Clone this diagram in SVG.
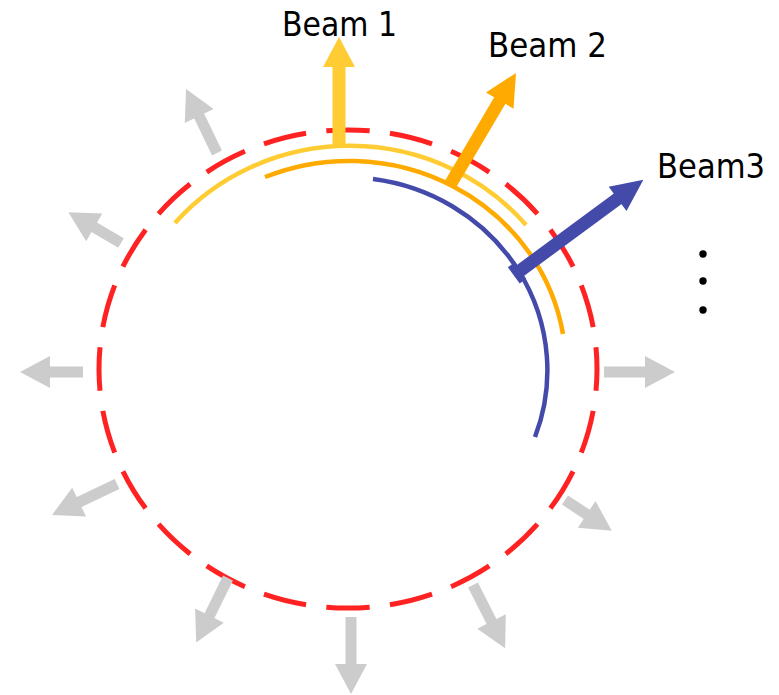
<svg xmlns="http://www.w3.org/2000/svg" width="779" height="695" viewBox="0 0 779 695">
  <style>
    .gs { stroke: #cccccc; stroke-width: 11; }
    .gh { fill: #cccccc; }
    .lbl { font-family: "DejaVu Sans Condensed", "DejaVu Sans", "Liberation Sans", sans-serif; font-size: 33px; fill: #000000; }
    .arc { fill: none; stroke-width: 4.5; }
  </style>
  <rect width="779" height="695" fill="#ffffff"/>

  <g id="ring">
    <path d="M597,369 A249,239 0 1 1 99,369 A249,239 0 1 1 597,369" fill="none" stroke="#ff2222" stroke-width="5" pathLength="2400" stroke-dasharray="68 32" stroke-dashoffset="34"/>
  </g>

  <g id="radiation">
    <g transform="translate(217,153) rotate(-115.8)"><line x1="0" y1="0" x2="42" y2="0" class="gs"/><polygon points="41,-16 71,0 41,16" class="gh"/></g>
    <g transform="translate(121,243) rotate(-149.7)"><line x1="0" y1="0" x2="32" y2="0" class="gs"/><polygon points="31,-16 61,0 31,16" class="gh"/></g>
    <g transform="translate(83,372) rotate(180)"><line x1="0" y1="0" x2="34" y2="0" class="gs"/><polygon points="33,-16 63,0 33,16" class="gh"/></g>
    <g transform="translate(117,484) rotate(154.5)"><line x1="0" y1="0" x2="43" y2="0" class="gs"/><polygon points="42,-16 72,0 42,16" class="gh"/></g>
    <g transform="translate(228,578) rotate(116.2)"><line x1="0" y1="0" x2="43" y2="0" class="gs"/><polygon points="42,-16 72,0 42,16" class="gh"/></g>
    <g transform="translate(351,617) rotate(90)"><line x1="0" y1="0" x2="48" y2="0" class="gs"/><polygon points="47,-16 77,0 47,16" class="gh"/></g>
    <g transform="translate(473,585) rotate(63.1)"><line x1="0" y1="0" x2="42" y2="0" class="gs"/><polygon points="41,-16 71,0 41,16" class="gh"/></g>
    <g transform="translate(565,500) rotate(33.4)"><line x1="0" y1="0" x2="27" y2="0" class="gs"/><polygon points="26,-16 56,0 26,16" class="gh"/></g>
    <g transform="translate(604,372) rotate(0)"><line x1="0" y1="0" x2="42" y2="0" class="gs"/><polygon points="41,-16 71,0 41,16" class="gh"/></g>
  </g>

  <g id="beam1">
    <path class="arc" stroke="#ffcc33" d="M175,223 A230,221 0 0 1 526,225"/>
    <g transform="translate(339,148) rotate(-90)">
      <line x1="0" y1="0" x2="82" y2="0" stroke="#ffcc33" stroke-width="13"/>
      <polygon points="81,-16 111,0 81,16" fill="#ffcc33"/>
    </g>
    <text class="lbl" x="282" y="36" textLength="115" lengthAdjust="spacingAndGlyphs">Beam 1</text>
  </g>

  <g id="beam2">
    <path class="arc" stroke="#ffaa00" d="M265,177 A217,207 0 0 1 563,334"/>
    <g transform="translate(450,185) rotate(-59.5)">
      <line x1="0" y1="0" x2="99" y2="0" stroke="#ffaa00" stroke-width="13"/>
      <polygon points="98,-16 130,0 98,16" fill="#ffaa00"/>
    </g>
    <text class="lbl" x="488" y="57" textLength="119" lengthAdjust="spacingAndGlyphs">Beam 2</text>
  </g>

  <g id="beam3">
    <path class="arc" stroke="#444aaa" stroke-width="4" d="M373,179 A201,193 0 0 1 535,437"/>
    <g transform="translate(517,273) rotate(-36.4)">
      <line x1="0" y1="0" x2="126" y2="0" stroke="#444aaa" stroke-width="13"/>
      <polygon points="125,-15 157,0 125,15" fill="#444aaa"/>
      <rect x="-4" y="-10" width="8" height="20" fill="#444aaa"/>
    </g>
    <text class="lbl" x="657" y="178" textLength="108" lengthAdjust="spacingAndGlyphs">Beam3</text>
  </g>

  <g id="ellipsis" fill="#000000">
    <circle cx="703" cy="254" r="3.7"/>
    <circle cx="703" cy="281" r="3.7"/>
    <circle cx="703" cy="310" r="3.7"/>
  </g>
</svg>
